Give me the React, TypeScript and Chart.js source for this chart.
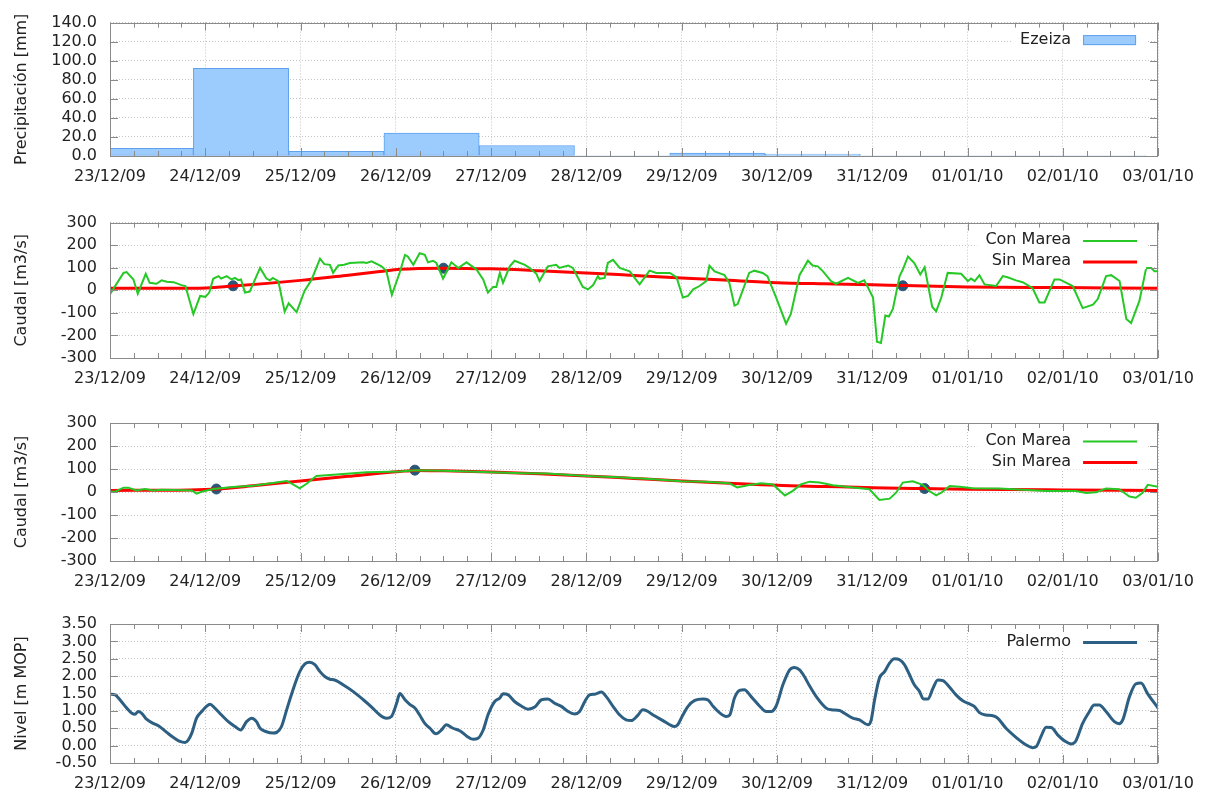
import React, { useEffect, useRef } from 'react';
import { Chart, registerables } from 'chart.js';

Chart.register(...registerables);

const FONT = "'DejaVu Sans', sans-serif";
const TEXT = '#222222';
const GRID = '#c4c4c4';
const FRAME = '#8a8a8a';

const DAY_LABELS = ['23/12/09', '24/12/09', '25/12/09', '26/12/09', '27/12/09', '28/12/09', '29/12/09', '30/12/09', '31/12/09', '01/01/10', '02/01/10', '03/01/10'];
const X_MAX_HOURS = 264;

// Panel 1 : precipitation (bar centres in hours since 23/12/09 00:00)
const PRECIP_HOURS = [9, 33, 57, 81, 105, 129, 153, 177, 201, 225, 249];
const PRECIP_VALUES = [8, 92, 5, 24, 11, 0, 3, 2, 0, 0, 0.5];

// Panel 2 : caudal con / sin marea
const CON_A_HOURS = [0, 3.4, 4.2, 5.9, 7, 9, 10, 11.7, 13, 14.3, 16, 18, 19, 21, 22.7, 24, 25, 26, 27.3, 28, 29.4, 30.6, 31.5, 32.3, 33, 34, 35.2, 37.8, 39.4, 40.3, 41, 42.4, 44, 45, 47, 49, 50.8, 52.9, 54, 55.4, 56.2, 57.5, 59, 60.4, 63.8, 64.6, 65.9, 68.4, 69.6, 71, 73,
  74.3, 75, 76.4, 78, 79.3, 80.1, 81.4, 82.2, 83.9, 86, 87.7, 89.8, 92.3, 94, 95.2, 96.5, 97.3, 98.2, 99, 100.7, 101.9, 104.5, 105.7, 107.4, 108.2, 110.3, 112.4, 113.2, 115.4, 116.6, 119.1, 120.4, 121.7, 122.9, 123.3, 124.6, 125.4, 126.7, 128.4, 130.9, 133.4, 135.1, 135.9, 137.6, 139.3, 141, 142.7, 144.3, 145.6, 146.9, 148.5, 150.2, 151, 152.3, 154.8, 156, 157.3, 158.1, 161, 162.3, 164.4, 165.6, 167.8, 170.3, 171.5, 173.7,
  175.8, 177, 178.3, 179.6, 181.6, 182.9, 185.9, 188.4, 190, 192.2, 193.2, 194.2, 195.3, 196.2, 197.2, 198.9, 199.7, 201, 202.6, 204.1, 205.2, 207.1, 208.1, 209.4, 211, 214.4, 216.1, 216.9, 217.8, 219, 220.3, 223.2, 224.9, 226.1, 228.2, 229.9, 232.4, 234.1, 235.4, 237.9, 239.2, 242.5, 245, 247.6, 248.8, 250.9, 252.2, 254.3, 256, 257.2, 259.3, 261, 262.3, 263.1, 264];
const CON_A_VALUES = [-17, 77, 81, 48, -15, 73, 33, 29, 44, 38, 36, 23, 19, -105, -25, -29, -10, 51, 63, 52, 63, 48, 55, 45, 48, -10, -6, 99, 52, 44, 55, 41, -95, -58, -97, -3, 48, 140, 116, 113, 77, 110, 113, 121, 124, 121, 128, 106, 87, -20, 80,
  157, 150, 113, 164, 157, 124, 131, 121, 52, 124, 99, 124, 92, 48, -10, 15, 15, 77, 33, 106, 131, 113, 99, 73, 41, 106, 113, 99, 110, 99, 15, 4, 23, 63, 51, 55, 121, 135, 99, 84, 26, 67, 87, 77, 77, 77, 58, -32, -25, 4, 19, 41, 109, 84, 67, 33, -68, -61, 77, 87, 77, 63, -32, -148, -105, 68,
  131, 110, 106, 84, 41, 29, 55, 33, 44, -32, -228, -233, -112, -116, -83, 63, 92, 150, 121, 70, 102, -73, -93, -32, 77, 73, 41, 52, 41, 67, 26, 19, 63, 58, 44, 36, 9, -54, -54, 48, 48, 19, -79, -64, -39, 63, 67, 41, -127, -145, -47, 99, 99, 84, 84];
const SIN_A_HOURS = [0, 21, 31, 48, 60, 68, 73, 84, 96, 108, 120, 132, 144, 156, 168, 180, 192, 200, 216, 240, 264];
const SIN_A_VALUES = [9, 9, 19, 44, 67, 83, 93, 98, 95, 87, 77, 66, 55, 44, 34, 29, 25, 21, 15, 12, 9];
const MARK_A_HOURS = [31, 84, 199.7];
const MARK_A_VALUES = [20, 98, 20];

// Panel 3 : caudal con / sin marea (filtrado)
const CON_B_HOURS = [0, 1.3, 3.4, 4.6, 6.7, 8.8, 10.9, 13, 16, 20.6, 21.8, 23.1, 26, 31, 36, 44.5, 46.1, 47.8, 49.5, 52, 55.4, 60.4, 64.6, 73, 77, 84, 96, 104, 110, 120, 128, 136, 144, 150, 156, 158, 161, 164, 167, 170, 172, 174, 176.2, 178.7, 182.1, 185.4, 191.3, 193.8, 196.4, 198, 199.7, 202.2, 204.7, 206.4, 208.1, 209.4, 211.5, 214, 217.3, 224, 235.8, 243.3, 245.9, 248.4, 250.9, 254.2, 256.8, 258.4, 260.1, 261.4, 264];
const CON_B_VALUES = [1, 1, 19, 19, 7, 13, 7, 10, 9, 7, -7, 1, 13, 22, 27, 48, 33, 16, 36, 70, 74, 80, 86, 89, 95, 92, 86, 82, 80, 70, 64, 56, 47, 45, 38, 20, 30, 38, 33, -15, 5, 33, 45, 41, 29, 23, 12, -35, -29, -3, 41, 47, 31, 4, -15, -3, 26, 23, 16, 15, 4, 4, -4, -1, 15, 12, -20, -25, -3, 31, 23];
const SIN_B_HOURS = [0, 20, 27, 36, 48, 60, 73, 77, 84, 96, 108, 120, 132, 144, 156, 168, 180, 192, 205, 216, 240, 264];
const SIN_B_VALUES = [7, 9, 13, 27, 48, 68, 89, 94, 92, 87, 79, 70, 59, 48, 38, 29, 24, 19, 15, 12, 9, 7];
const MARK_B_HOURS = [26.8, 76.8, 205.2];
const MARK_B_VALUES = [13, 95, 15];

// Panel 4 : nivel Palermo
const PALERMO_HOURS = [0, 1.3, 2.5, 4.2, 5.5, 6.3, 7.1, 8, 9.2, 10.9, 12.2, 14.3, 15.9, 17.6, 18.9, 19.7, 20.6, 21.8, 23.1, 24.3, 25.2, 26.4, 28.1, 29.8, 31.5, 32.9, 34.4, 35.7, 36.9, 37.8, 39.4, 41.1, 42, 43.2, 44.5, 46.1, 47.8, 49.1, 50.3, 51.6, 52.9, 54.1, 55.4, 56.6, 58.7, 61.2, 63.8, 65.9, 68, 69.6, 70.9, 72.2, 73,
  74.3, 75.5, 76.8, 78, 79.3, 80.6, 82.1, 83.5, 84.7, 86.4, 88.1, 89.8, 91.5, 92.7, 94, 95.2, 96.9, 98.2, 99, 100.3, 101.9, 103.6, 105.3, 107, 108.7, 110.3, 112, 113.7, 115.4, 117, 118.3, 119.6, 120.8, 122.1, 123.8, 125, 126.7, 128.4, 130, 131.3, 133, 134.2, 135.1, 136.8, 139.3, 141, 142.2, 143, 144.3, 145.6, 147.3, 149.4, 150.6, 151.9, 153.5, 155.2, 156.1, 157.3, 158.6, 159.8, 161.5, 163.6, 165.3, 166.5, 167.8, 169.5, 171.2, 172.4, 173.7,
  174.9, 176.2, 177.9, 180.4, 181.7, 183.8, 185, 187.1, 188.8, 190.9, 191.7, 192.6, 193.8, 195.1, 196.4, 197.6, 198.9, 200.1, 201.4, 202.6, 203.9, 204.9, 206, 207.3, 208.5, 209.8, 211.5, 213.1, 214.8, 216.5, 217.7, 219, 220.7, 222.4, 223.6, 225.7, 228.2, 230.8, 232.4, 233.3, 234.5, 235.8, 237.1, 238.7, 240.4, 242.1, 243.2, 245, 246.7, 247.9, 249.2, 250.9, 253, 254.2, 255.1, 256.8, 258.4, 259.7, 261.4, 264];
const PALERMO_VALUES = [1.48, 1.46, 1.32, 1.08, 0.93, 0.9, 0.98, 0.93, 0.76, 0.64, 0.57, 0.38, 0.24, 0.12, 0.09, 0.16, 0.36, 0.79, 0.98, 1.13, 1.19, 1.08, 0.88, 0.69, 0.55, 0.45, 0.69, 0.79, 0.69, 0.5, 0.4, 0.36, 0.38, 0.55, 1.03, 1.61, 2.13, 2.35, 2.4, 2.33, 2.13, 1.99, 1.91, 1.89, 1.75, 1.56, 1.32, 1.11, 0.88, 0.79, 0.84, 1.22, 1.5,
  1.32, 1.19, 1.08, 0.88, 0.64, 0.5, 0.34, 0.45, 0.6, 0.5, 0.43, 0.28, 0.18, 0.21, 0.45, 0.88, 1.27, 1.37, 1.49, 1.46, 1.27, 1.14, 1.05, 1.11, 1.32, 1.34, 1.22, 1.13, 0.98, 0.91, 0.98, 1.27, 1.46, 1.48, 1.54, 1.41, 1.13, 0.88, 0.74, 0.72, 0.88, 1.03, 1.01, 0.88, 0.72, 0.6, 0.55, 0.6, 0.88, 1.13, 1.3, 1.34, 1.32, 1.13, 0.95, 0.84, 0.88, 1.37, 1.59, 1.61, 1.41, 1.14, 0.98, 0.98, 1.14, 1.75, 2.18, 2.25, 2.18,
  1.99, 1.72, 1.41, 1.08, 1.03, 1.01, 0.93, 0.79, 0.74, 0.6, 0.72, 1.32, 1.94, 2.13, 2.38, 2.5, 2.47, 2.33, 2.04, 1.75, 1.56, 1.34, 1.34, 1.65, 1.89, 1.87, 1.68, 1.46, 1.29, 1.2, 1.13, 0.95, 0.88, 0.86, 0.79, 0.5, 0.24, 0.02, -0.06, -0.03, 0.26, 0.53, 0.52, 0.31, 0.14, 0.05, 0.12, 0.64, 0.98, 1.17, 1.17, 0.98, 0.69, 0.63, 0.74, 1.41, 1.78, 1.8, 1.49, 1.08];

const GREEN = '#25c825';
const RED = '#ff0000';
const STEEL = '#2d5f82';
const MARKER = '#2b5677';
const BAR_FILL = '#9ccbfd';
const BAR_EDGE = '#5ea2ee';

const pts = (hs: number[], vs: number[]) => hs.map((h, i) => ({ x: h, y: vs[i] }));

const fontSpec = { family: FONT, size: 16 };

function xScale(axisHeight: number) {
  return {
    type: 'linear',
    min: 0,
    max: X_MAX_HOURS,
    offset: false,
    afterBuildTicks: (s: any) => {
      s.ticks = DAY_LABELS.map((_, i) => ({ value: i * 24 }));
    },
    afterFit: (s: any) => {
      s.height = axisHeight;
    },
    ticks: {
      autoSkip: false,
      maxRotation: 0,
      minRotation: 0,
      padding: 11,
      color: TEXT,
      font: fontSpec,
      callback: (v: number) => DAY_LABELS[Math.round(v / 24)],
    },
    grid: { drawTicks: false, color: GRID, lineWidth: 1, offset: false },
    border: { display: false, dash: [1, 2] },
  };
}

function yScale(min: number, max: number, step: number, decimals: number, title: string) {
  return {
    type: 'linear',
    min,
    max,
    afterFit: (s: any) => {
      s.width = 110;
    },
    ticks: {
      stepSize: step,
      autoSkip: false,
      padding: 13,
      color: TEXT,
      font: fontSpec,
      callback: (v: number) => Number(v).toFixed(decimals),
    },
    grid: { drawTicks: false, color: GRID, lineWidth: 1 },
    border: { display: false, dash: [1, 2] },
    title: { display: true, text: title, color: TEXT, font: fontSpec, padding: { top: 12, bottom: 0 } },
  };
}

const keyPlugin = {
  id: 'gpKey',
  afterDatasetsDraw(chart: any) {
    const { ctx, chartArea: a } = chart;
    const items = chart.data.datasets.filter((d: any) => d.label);
    if (!items.length) return;
    ctx.save();
    ctx.font = `16px ${FONT}`;
    const textRight = a.right - 87;
    const maxW = Math.max(...items.map((d: any) => ctx.measureText(d.label).width));
    const rowY = (i: number) => a.top + 17.5 + i * 21;
    ctx.fillStyle = '#ffffff';
    ctx.fillRect(textRight - maxW - 8, a.top + 6, a.right - 12 - (textRight - maxW - 8), rowY(items.length - 1) + 8 - (a.top + 6));
    items.forEach((d: any, i: number) => {
      const y = rowY(i);
      ctx.fillStyle = TEXT;
      ctx.textAlign = 'right';
      ctx.textBaseline = 'middle';
      ctx.fillText(d.label, textRight, y);
      if (d.type === 'bar' || chart.config.type === 'bar') {
        ctx.fillStyle = d.backgroundColor;
        ctx.fillRect(a.right - 75, y - 5, 53, 10);
        ctx.strokeStyle = d.borderColor;
        ctx.lineWidth = 1;
        ctx.strokeRect(a.right - 74.5, y - 4.5, 52, 9);
      } else {
        ctx.strokeStyle = d.borderColor;
        ctx.lineWidth = d.borderWidth;
        ctx.beginPath();
        ctx.moveTo(a.right - 75, y + 1);
        ctx.lineTo(a.right - 21, y + 1);
        ctx.stroke();
      }
    });
    ctx.restore();
  },
};

const framePlugin = {
  id: 'gpFrame',
  afterDraw(chart: any) {
    const { ctx, chartArea: a, scales } = chart;
    const xs = scales.x;
    const ys = scales.y;
    ctx.save();
    ctx.strokeStyle = FRAME;
    ctx.lineWidth = 1;
    ctx.beginPath();
    for (let h = 0; h <= X_MAX_HOURS; h += 6) {
      const px = Math.round(xs.getPixelForValue(h)) + 0.5;
      const len = h % 24 === 0 ? 8 : 5;
      ctx.moveTo(px, a.bottom);
      ctx.lineTo(px, a.bottom - len);
      ctx.moveTo(px, a.top);
      ctx.lineTo(px, a.top + len);
    }
    ys.ticks.forEach((t: any) => {
      const py = Math.round(ys.getPixelForValue(t.value)) + 0.5;
      ctx.moveTo(a.left, py);
      ctx.lineTo(a.left + 8, py);
      ctx.moveTo(a.right, py);
      ctx.lineTo(a.right - 8, py);
    });
    ctx.stroke();
    ctx.strokeRect(Math.round(a.left) + 0.5, Math.round(a.top) + 0.5, Math.round(a.right - a.left) - 1, Math.round(a.bottom - a.top));
    ctx.restore();
  },
};

function basePlugins() {
  return { legend: { display: false }, tooltip: { enabled: false } };
}

function precipConfig(): any {
  return {
    type: 'bar',
    data: {
      datasets: [
        {
          label: 'Ezeiza',
          data: pts(PRECIP_HOURS, PRECIP_VALUES),
          backgroundColor: BAR_FILL,
          borderColor: BAR_EDGE,
          borderWidth: (c: any) => (c.raw && c.raw.y > 0 ? 1 : 0),
          borderSkipped: false,
          barPercentage: 1,
          categoryPercentage: 1,
          clip: 0,
        },
      ],
    },
    options: {
      responsive: false,
      animation: false,
      devicePixelRatio: 1,
      layout: { padding: { top: 18, right: 46, left: 0, bottom: 0 } },
      scales: { x: xScale(44), y: yScale(0, 140, 20, 1, 'Precipitación [mm]') },
      plugins: basePlugins(),
    },
    plugins: [keyPlugin, framePlugin],
  };
}

function caudalConfig(padTop: number, axisH: number, con: [number[], number[]], sin: [number[], number[]], mark: [number[], number[]]): any {
  return {
    type: 'line',
    data: {
      datasets: [
        {
          label: 'Con Marea',
          data: pts(con[0], con[1]),
          borderColor: GREEN,
          backgroundColor: GREEN,
          borderWidth: 2,
          pointRadius: 0,
          tension: 0,
        },
        {
          label: 'Sin Marea',
          data: pts(sin[0], sin[1]),
          borderColor: RED,
          backgroundColor: RED,
          borderWidth: 3,
          pointRadius: 0,
          cubicInterpolationMode: 'monotone',
        },
        {
          data: pts(mark[0], mark[1]),
          showLine: false,
          pointRadius: 5,
          pointBackgroundColor: MARKER,
          pointBorderColor: MARKER,
          borderColor: MARKER,
        },
      ],
    },
    options: {
      responsive: false,
      animation: false,
      devicePixelRatio: 1,
      layout: { padding: { top: padTop, right: 46, left: 0, bottom: 0 } },
      scales: { x: xScale(axisH), y: yScale(-300, 300, 100, 0, 'Caudal [m3/s]') },
      plugins: basePlugins(),
    },
    plugins: [keyPlugin, framePlugin],
  };
}

function nivelConfig(): any {
  return {
    type: 'line',
    data: {
      datasets: [
        {
          label: 'Palermo',
          data: pts(PALERMO_HOURS, PALERMO_VALUES),
          borderColor: STEEL,
          backgroundColor: STEEL,
          borderWidth: 3,
          pointRadius: 0,
          cubicInterpolationMode: 'monotone',
        },
      ],
    },
    options: {
      responsive: false,
      animation: false,
      devicePixelRatio: 1,
      layout: { padding: { top: 24, right: 46, left: 0, bottom: 0 } },
      scales: { x: xScale(31), y: yScale(-0.5, 3.5, 0.5, 2, 'Nivel [m MOP]') },
      plugins: basePlugins(),
    },
    plugins: [keyPlugin, framePlugin],
  };
}

function Panel({ top, height, build }: { top: number; height: number; build: () => any }) {
  const ref = useRef<HTMLCanvasElement>(null);
  useEffect(() => {
    if (!ref.current) return;
    const chart = new Chart(ref.current, build());
    return () => chart.destroy();
  }, []);
  return (
    <canvas
      ref={ref}
      width={1205}
      height={height}
      style={{ position: 'absolute', left: 0, top, width: 1205, height, display: 'block' }}
    />
  );
}

export default function App() {
  return (
    <div style={{ position: 'absolute', left: 0, top: 0, width: 1205, height: 794, background: '#ffffff', overflow: 'hidden' }}>
      <Panel top={0} height={200} build={precipConfig} />
      <Panel top={200} height={200} build={() => caudalConfig(21, 42, [CON_A_HOURS, CON_A_VALUES], [SIN_A_HOURS, SIN_A_VALUES], [MARK_A_HOURS, MARK_A_VALUES])} />
      <Panel top={400} height={200} build={() => caudalConfig(23, 39, [CON_B_HOURS, CON_B_VALUES], [SIN_B_HOURS, SIN_B_VALUES], [MARK_B_HOURS, MARK_B_VALUES])} />
      <Panel top={600} height={194} build={nivelConfig} />
    </div>
  );
}
